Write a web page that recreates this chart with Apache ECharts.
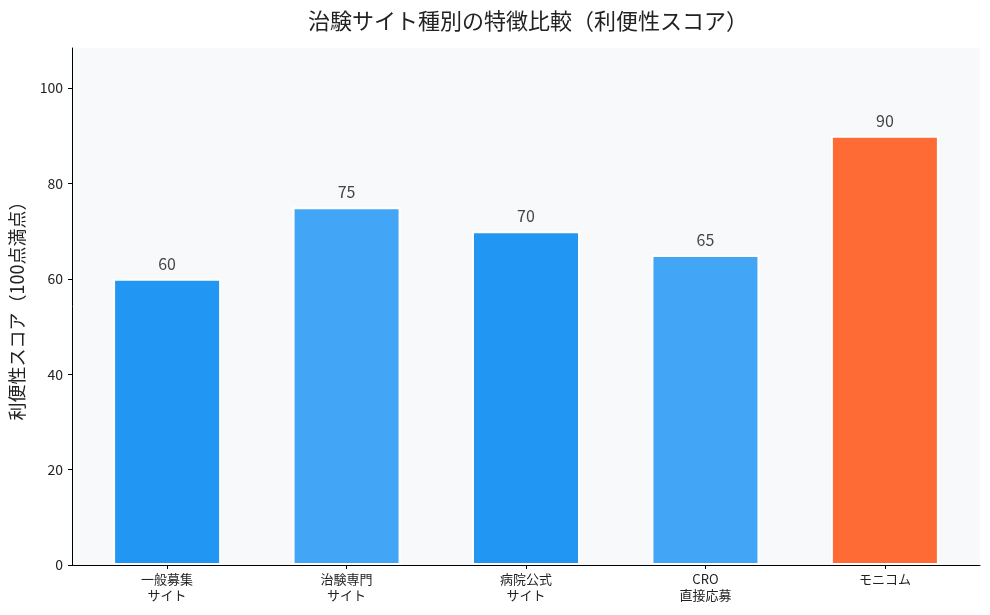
<!DOCTYPE html>
<html>
<head>
<meta charset="utf-8">
<script src="https://cdn.jsdelivr.net/npm/echarts@6/dist/echarts.min.js"></script>
<style>
  html, body { margin: 0; padding: 0; background: #fff; }
  #chart { width: 990px; height: 615px; }
</style>
</head>
<body>
<div id="chart"></div>
<script>
  // カテゴリとスコア
  var categories = ['一般募集\nサイト', '治験専門\nサイト', '病院公式\nサイト', 'CRO\n直接応募', 'モニコム'];
  var scores = [60, 75, 70, 65, 90];
  var barColors = ['#2196F3', '#42A5F5', '#2196F3', '#42A5F5', '#FF6B35'];
  var yTicks = [0, 20, 40, 60, 80, 100];
  var xPos = [0, 1, 2, 3, 4];

  var FONT = '"Noto Sans CJK JP", "Noto Sans", sans-serif';

  var chart = echarts.init(document.getElementById('chart'));
  chart.setOption({
    backgroundColor: '#ffffff',
    animation: false,
    title: {
      text: '治験サイト種別の特徴比較（利便性スコア）',
      left: 523,
      textAlign: 'center',
      top: 5,
      textStyle: { fontFamily: FONT, fontSize: 22, fontWeight: 'normal', color: '#222' }
    },
    grid: {
      left: 71, right: 10, top: 48, bottom: 50,
      show: true, backgroundColor: '#f8f9fa', borderWidth: 0
    },
    xAxis: {
      type: 'value',
      min: -0.53, max: 4.53,
      splitLine: { show: false },
      axisLine: { show: true, onZero: false, lineStyle: { color: '#000', width: 1 } },
      axisTick: { show: true, length: 4, customValues: xPos, lineStyle: { color: '#000' } },
      axisLabel: {
        customValues: xPos,
        fontFamily: FONT, fontSize: 13, color: '#222', lineHeight: 16, margin: 6,
        formatter: function (v) { return categories[Math.round(v)]; }
      }
    },
    yAxis: {
      type: 'value',
      min: 0, max: 108.4,
      name: '利便性スコア（100点満点）',
      nameLocation: 'middle',
      nameGap: 46,
      nameTextStyle: { fontFamily: FONT, fontSize: 18, color: '#222' },
      axisLine: { show: true, onZero: false, lineStyle: { color: '#000', width: 1 } },
      axisTick: { show: true, length: 4, customValues: yTicks, lineStyle: { color: '#000' } },
      splitLine: { show: false },
      axisLabel: {
        customValues: yTicks,
        fontFamily: FONT, fontSize: 14, color: '#222', margin: 9
      }
    },
    series: [{
      type: 'bar',
      barWidth: 108,
      data: scores.map(function (v, i) {
        return { value: [xPos[i], v], itemStyle: { color: barColors[i] } };
      }),
      itemStyle: { borderColor: '#ffffff', borderWidth: 2 },
      label: {
        show: true, position: 'top', distance: 7,
        fontFamily: FONT, fontSize: 16, color: '#444',
        formatter: function (p) { return p.value[1]; }
      }
    }]
  });
</script>
</body>
</html>
